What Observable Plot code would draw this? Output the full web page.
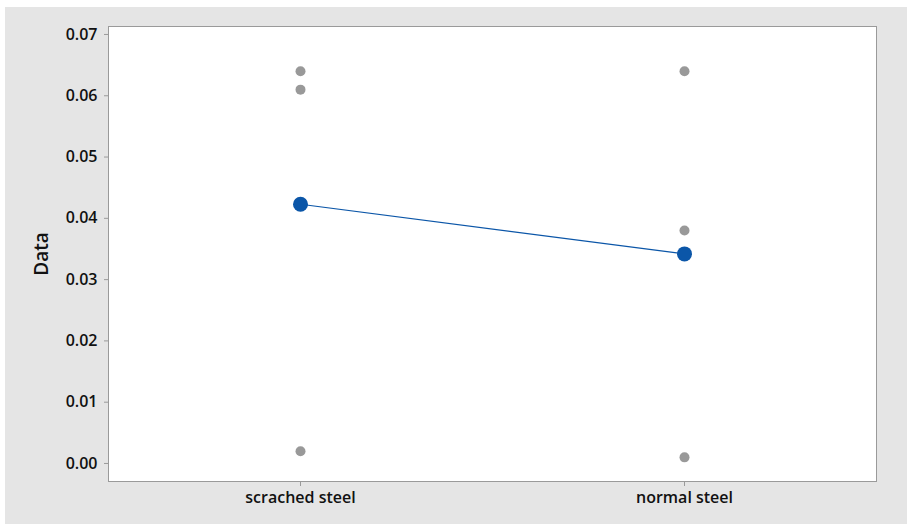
<!DOCTYPE html>
<html>
<head>
<meta charset="utf-8">
<script src="https://cdn.jsdelivr.net/npm/d3@7"></script>
<script src="https://cdn.jsdelivr.net/npm/@observablehq/plot@0.6"></script>
<style>
  html, body { margin: 0; padding: 0; background: #ffffff; }
  #wrap { position: relative; width: 907px; height: 524px; overflow: hidden; }
  #bg { position: absolute; left: 5px; top: 7px; width: 902px; height: 517px; background: #e5e5e5; }
  #chart { position: absolute; left: 0; top: 0; }
  #chart g[aria-label="y-axis label"] text { font-size: 19px; }
</style>
</head>
<body>
<div id="wrap"><div id="bg"></div><div id="chart"></div></div>
<script>
const categories = ["scrached steel", "normal steel"];
const scrachedValues = [0.064, 0.061, 0.002];
const normalValues = [0.064, 0.038, 0.001];
const meanValues = [0.0423, 0.0342];
const yTicks = [0, 0.01, 0.02, 0.03, 0.04, 0.05, 0.06, 0.07];

const individual = [
  ...scrachedValues.map(v => ({group: categories[0], value: v})),
  ...normalValues.map(v => ({group: categories[1], value: v}))
];
const means = categories.map((c, i) => ({group: c, value: meanValues[i]}));

const chart = Plot.plot({
  width: 907,
  height: 524,
  marginLeft: 108,
  marginRight: 31,
  marginTop: 26,
  marginBottom: 43,
  style: {background: "transparent", fontFamily: "'Open Sans', sans-serif", fontSize: "16px", color: "#111111", fontWeight: 600},
  x: {type: "point", domain: categories, padding: 0.5},
  y: {domain: [-0.00294, 0.0713]},
  marks: [
    Plot.frame({fill: "#ffffff", stroke: "#9a9a9a", strokeWidth: 1}),
    Plot.axisY({ticks: yTicks, tickFormat: d3.format(".2f"), tickSize: 4, tickPadding: 7, stroke: "#9a9a9a", label: "Data", labelAnchor: "center", labelOffset: 74, labelArrow: "none"}),
    Plot.axisX({tickSize: 5, tickPadding: 5, stroke: "#9a9a9a", label: null}),
    Plot.dot(individual, {x: "group", y: "value", r: 5, fill: "#999999", stroke: "none"}),
    Plot.line(means, {x: "group", y: "value", stroke: "#0b56a8", strokeWidth: 1.2}),
    Plot.dot(means, {x: "group", y: "value", r: 7.5, fill: "#0b56a8", stroke: "none"})
  ]
});
document.getElementById("chart").appendChild(chart);
</script>
</body>
</html>
